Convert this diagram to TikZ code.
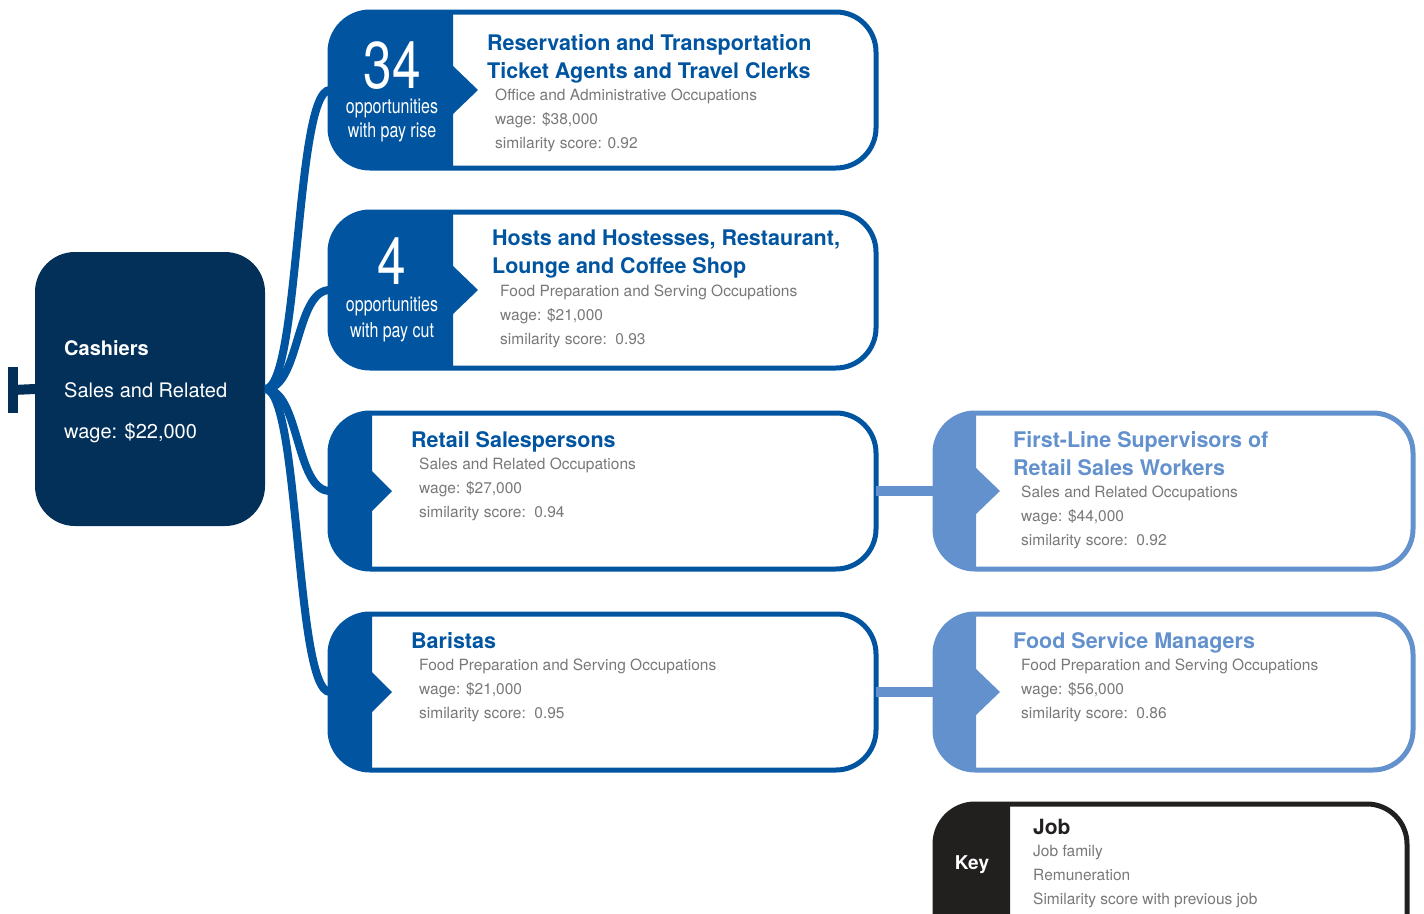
\documentclass[tikz,border=0pt]{standalone}
\usepackage{fontspec}
\setmainfont{TeX Gyre Heros}
\newfontfamily\narrowfont[FakeStretch=0.78]{TeX Gyre Heros}

\definecolor{navy}{RGB}{3,48,89}
\definecolor{jobblue}{RGB}{0,84,160}
\definecolor{lightblue}{RGB}{98,145,205}
\definecolor{keyblack}{RGB}{34,31,31}
\definecolor{infogray}{RGB}{120,120,120}

\tikzstyle{card} = [rectangle, rounded corners=40, draw=jobblue, line width=5, minimum width=546, minimum height=156, inner sep=0, outer sep=0]
\tikzstyle{link} = [draw=jobblue, line width=8]
\tikzstyle{nextlink} = [draw=lightblue, line width=10]
\tikzstyle{jobtitle} = [anchor=base west, inner sep=0, text=jobblue, font=\fontsize{21.5}{25}\selectfont\bfseries]
\tikzstyle{jobinfo} = [anchor=base west, inner sep=0, text=infogray, font=\fontsize{15.5}{18}\selectfont]
\tikzstyle{bignum} = [anchor=base, inner sep=0, text=white, font=\narrowfont\fontsize{66}{66}\selectfont]
\tikzstyle{numtext} = [anchor=base, inner sep=0, text=white, font=\narrowfont\fontsize{20.5}{24}\selectfont]

\begin{document}
\begin{tikzpicture}[x=1pt, y=-1pt]
		\useasboundingbox (0,0) rectangle (1424,913);
		% Nodes
		\node (cashier) [rectangle, rounded corners=40, fill=navy, minimum width=230, minimum height=274, inner sep=0, outer sep=0] at (150,389) {};
		\node (cashier-title) [anchor=base west, inner sep=0, text=white, font=\fontsize{20}{24}\selectfont\bfseries] at (64,355) {Cashiers};
		\node (cashier-family) [anchor=base west, inner sep=0, text=white, font=\fontsize{20}{24}\selectfont] at (64,397) {Sales and Related};
		\node (cashier-wage) [anchor=base west, inner sep=0, text=white, font=\fontsize{20}{24}\selectfont] at (64,438) {wage: \$22,000};
		\coordinate (start) at (13,390);

		\node (res) [card] at (603,90) {};
		\node (hosts) [card] at (603,290) {};
		\node (ret) [card] at (603,491) {};
		\node (bar) [card] at (603,692) {};
		\node (sup) [card, draw=lightblue, minimum width=478] at (1174,491) {};
		\node (fsm) [card, draw=lightblue, minimum width=478] at (1174,692) {};
		\node (key) [card, draw=keyblack, minimum width=472, minimum height=150] at (1171,879) {};

		% Fills
		\begin{scope}
			\clip (res.north west) rectangle ([xshift=123]res.south west);
			\fill[jobblue, rounded corners=40] (res.north west) rectangle (res.south east);
		\end{scope}
		\fill[jobblue] ([shift={(122,-25)}]res.west) -- ([shift={(148,0)}]res.west) -- ([shift={(122,25)}]res.west) -- cycle;
		\begin{scope}
			\clip (hosts.north west) rectangle ([xshift=123]hosts.south west);
			\fill[jobblue, rounded corners=40] (hosts.north west) rectangle (hosts.south east);
		\end{scope}
		\fill[jobblue] ([shift={(122,-25)}]hosts.west) -- ([shift={(148,0)}]hosts.west) -- ([shift={(122,25)}]hosts.west) -- cycle;
		\begin{scope}
			\clip (ret.north west) rectangle ([xshift=42]ret.south west);
			\fill[jobblue, rounded corners=40] (ret.north west) rectangle (ret.south east);
		\end{scope}
		\fill[jobblue] ([shift={(41,-21)}]ret.west) -- ([shift={(62,0)}]ret.west) -- ([shift={(41,21)}]ret.west) -- cycle;
		\begin{scope}
			\clip (bar.north west) rectangle ([xshift=42]bar.south west);
			\fill[jobblue, rounded corners=40] (bar.north west) rectangle (bar.south east);
		\end{scope}
		\fill[jobblue] ([shift={(41,-21)}]bar.west) -- ([shift={(62,0)}]bar.west) -- ([shift={(41,21)}]bar.west) -- cycle;
		\begin{scope}
			\clip (sup.north west) rectangle ([xshift=41]sup.south west);
			\fill[lightblue, rounded corners=40] (sup.north west) rectangle (sup.south east);
		\end{scope}
		\fill[lightblue] ([shift={(40,-24)}]sup.west) -- ([shift={(65,0)}]sup.west) -- ([shift={(40,24)}]sup.west) -- cycle;
		\begin{scope}
			\clip (fsm.north west) rectangle ([xshift=41]fsm.south west);
			\fill[lightblue, rounded corners=40] (fsm.north west) rectangle (fsm.south east);
		\end{scope}
		\fill[lightblue] ([shift={(40,-24)}]fsm.west) -- ([shift={(65,0)}]fsm.west) -- ([shift={(40,24)}]fsm.west) -- cycle;
		\begin{scope}
			\clip (key.north west) rectangle ([xshift=75]key.south west);
			\fill[keyblack, rounded corners=40] (key.north west) rectangle (key.south east);
		\end{scope}

		% Counts
		\node (res-num) [bignum] at (392,88) {34};
		\node (res-num1) [numtext] at (392,113) {opportunities};
		\node (res-num2) [numtext] at (392,137) {with pay rise};
		\node (hosts-num) [bignum] at (392,284) {4};
		\node (hosts-num1) [numtext] at (392,311) {opportunities};
		\node (hosts-num2) [numtext] at (392,337) {with pay cut};

		% Texts
		\node (res-title1) [jobtitle] at (487,50) {Reservation and Transportation};
		\node (res-title2) [jobtitle] at (487,78) {Ticket Agents and Travel Clerks};
		\node (res-family) [jobinfo] at (495,100) {Office and Administrative Occupations};
		\node (res-wage) [jobinfo] at (495,124) {wage: \$38,000};
		\node (res-score) [jobinfo] at (495,148) {similarity score: 0.92};

		\node (hosts-title1) [jobtitle] at (492,245) {Hosts and Hostesses, Restaurant,};
		\node (hosts-title2) [jobtitle] at (492,273) {Lounge and Coffee Shop};
		\node (hosts-family) [jobinfo] at (500,296) {Food Preparation and Serving Occupations};
		\node (hosts-wage) [jobinfo] at (500,320) {wage: \$21,000};
		\node (hosts-score) [jobinfo] at (500,344) {similarity score:\ \ 0.93};

		\node (ret-title) [jobtitle] at (411,447) {Retail Salespersons};
		\node (ret-family) [jobinfo] at (419,469) {Sales and Related Occupations};
		\node (ret-wage) [jobinfo] at (419,493) {wage: \$27,000};
		\node (ret-score) [jobinfo] at (419,517) {similarity score:\ \ 0.94};

		\node (bar-title) [jobtitle] at (411,648) {Baristas};
		\node (bar-family) [jobinfo] at (419,670) {Food Preparation and Serving Occupations};
		\node (bar-wage) [jobinfo] at (419,694) {wage: \$21,000};
		\node (bar-score) [jobinfo] at (419,718) {similarity score:\ \ 0.95};

		\node (sup-title1) [jobtitle, text=lightblue] at (1013,447) {First-Line Supervisors of};
		\node (sup-title2) [jobtitle, text=lightblue] at (1013,475) {Retail Sales Workers};
		\node (sup-family) [jobinfo] at (1021,497) {Sales and Related Occupations};
		\node (sup-wage) [jobinfo] at (1021,521) {wage: \$44,000};
		\node (sup-score) [jobinfo] at (1021,545) {similarity score:\ \ 0.92};

		\node (fsm-title) [jobtitle, text=lightblue] at (1013,648) {Food Service Managers};
		\node (fsm-family) [jobinfo] at (1021,670) {Food Preparation and Serving Occupations};
		\node (fsm-wage) [jobinfo] at (1021,694) {wage: \$56,000};
		\node (fsm-score) [jobinfo] at (1021,718) {similarity score:\ \ 0.86};

		\node (key-label) [anchor=base, inner sep=0, text=white, font=\fontsize{19}{22}\selectfont\bfseries] at (972,869) {Key};
		\node (key-title) [jobtitle, text=keyblack, font=\fontsize{21}{25}\selectfont\bfseries] at (1033,834) {Job};
		\node (key-family) [jobinfo] at (1033,856) {Job family};
		\node (key-wage) [jobinfo] at (1033,880) {Remuneration};
		\node (key-score) [jobinfo] at (1033,904) {Similarity score with previous job};

		% Arrows
		\draw [navy, line width=10] (start) -- (cashier.west);
		\draw [navy, line width=10] (13,367) -- (13,413);
		\draw [link] (cashier.east) .. controls +(35,0) and +(-35,0) .. (res.west);
		\draw [link] (cashier.east) .. controls +(35,0) and +(-35,0) .. (hosts.west);
		\draw [link] (cashier.east) .. controls +(35,0) and +(-35,0) .. (ret.west);
		\draw [link] (cashier.east) .. controls +(35,0) and +(-35,0) .. (bar.west);
		\draw [nextlink] (ret.east) -- (sup.west);
		\draw [nextlink] (bar.east) -- (fsm.west);
	\end{tikzpicture}
\end{document}
